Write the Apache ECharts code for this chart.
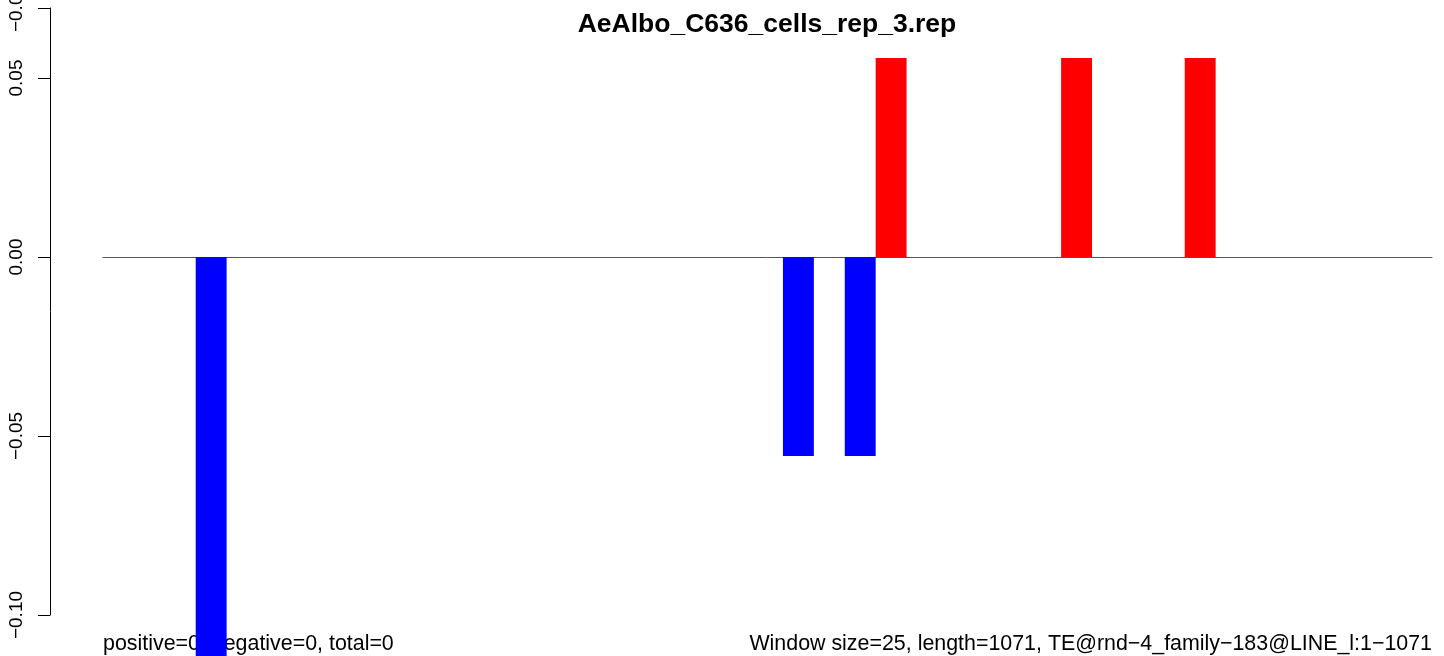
<!DOCTYPE html>
<html>
<head>
<meta charset="utf-8">
<script src="https://cdn.jsdelivr.net/npm/echarts@6/dist/echarts.min.js"></script>
<style>
html,body{margin:0;padding:0;background:#fff;}
#chart{width:1444px;height:656px;}
</style>
</head>
<body>
<div id="chart"></div>
<script>
// ---- data ----
var chartTitle = "AeAlbo_C636_cells_rep_3.rep";
var leftNote = "positive=0, negative=0, total=0";
var rightNote = "Window size=25, length=1071, TE@rnd\u22124_family\u2212183@LINE_l:1\u22121071";
var windows = [];
for (var i = 1; i <= 43; i++) windows.push(String(i));
var values = [0, 0, 0, -0.112, 0, 0, 0, 0, 0, 0,
              0, 0, 0, 0, 0, 0, 0, 0, 0, 0,
              0, 0, -0.0556, 0, -0.0556, 0.0556, 0, 0, 0, 0,
              0, 0.0556, 0, 0, 0, 0.0556, 0, 0, 0, 0,
              0, 0, 0];
var yTop = 0.06955;
var tickValues = [-0.1, -0.05, 0, 0.05, yTop];
var tickLabels = ["\u22120.10", "\u22120.05", "0.00", "0.05", "\u22120.05"];

var chart = echarts.init(document.getElementById('chart'), null, {renderer: 'canvas'});
var FONT = '"Liberation Sans", Arial, Helvetica, sans-serif';
function labelFor(v) {
  for (var k = 0; k < tickValues.length; k++) {
    if (Math.abs(tickValues[k] - v) < 1e-6) return tickLabels[k];
  }
  return '';
}
chart.setOption({
  animation: false,
  backgroundColor: '#ffffff',
  title: [
    {text: chartTitle, left: 767, top: 11, textAlign: 'center', padding: 0, z: 1,
     textStyle: {fontFamily: FONT, fontWeight: 'bold', fontSize: 26.5, color: '#000'}},
    {text: leftNote, left: 103, top: 634, padding: 0, z: 1,
     textStyle: {fontFamily: FONT, fontWeight: 'normal', fontSize: 21.4, color: '#000'}},
    {text: rightNote, right: 12, top: 634, padding: 0, z: 1,
     textStyle: {fontFamily: FONT, fontWeight: 'normal', fontSize: 21.4, color: '#000'}}
  ],
  grid: {left: 103, right: 12, top: 8, bottom: 41, containLabel: false, outerBoundsMode: 'none'},
  xAxis: {
    type: 'category', data: windows, boundaryGap: true,
    axisLine: {show: true, onZero: true, lineStyle: {color: '#555', width: 1}},
    axisTick: {show: false}, axisLabel: {show: false}, splitLine: {show: false}
  },
  yAxis: {
    type: 'value', min: -0.1, max: yTop, offset: 53,
    axisLine: {show: true, lineStyle: {color: '#000', width: 1}},
    axisTick: {show: true, length: 12, customValues: tickValues, lineStyle: {color: '#000', width: 1}},
    axisLabel: {show: true, customValues: tickValues, rotate: 90, margin: 24,
      fontFamily: FONT, fontSize: 19, color: '#000', formatter: labelFor},
    splitLine: {show: false}
  },
  series: [{
    type: 'bar', data: values, clip: false, z: 10,
    barCategoryGap: '0%', barGap: '0%',
    itemStyle: {color: function (p) { return p.value < 0 ? '#0000ff' : '#ff0000'; }}
  }]
});
</script>
</body>
</html>
